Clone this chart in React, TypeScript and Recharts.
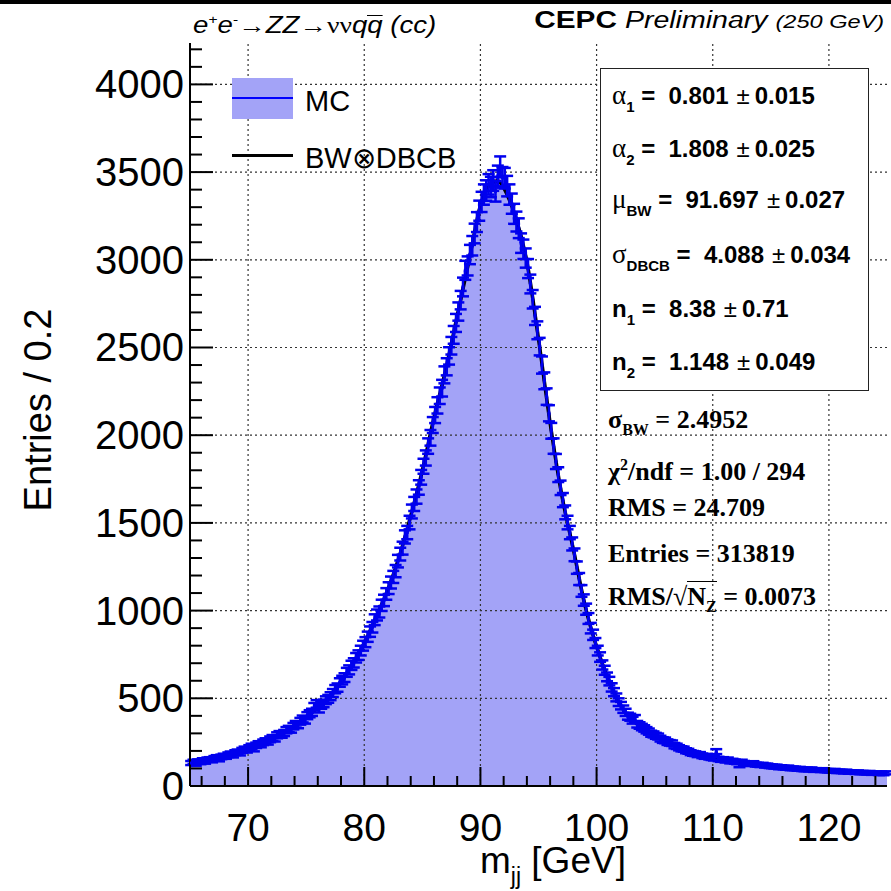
import React from 'react';
import { ComposedChart, Area, Line, Scatter, ErrorBar, XAxis, YAxis, ReferenceLine } from 'recharts';

const X_MIN = 65;
const X_MAX = 125;
const BIN_WIDTH = 0.2;
const Y_MAX = 4236;

// MC entries per 0.2 GeV bin, five bins per GeV, first bin starts at 65 GeV
const counts = [
  131, 138, 127, 140, 136, // 65
  146, 139, 150, 152, 147, // 66
  158, 163, 153, 166, 171, // 67
  168, 178, 183, 176, 190, // 68
  194, 188, 203, 210, 205, // 69
  218, 226, 212, 232, 240, // 70
  236, 249, 256, 252, 266, // 71
  274, 270, 289, 296, 292, // 72
  302, 318, 325, 322, 341, // 73
  352, 348, 369, 382, 375, // 74
  401, 412, 420, 452, 468, // 75
  440, 462, 471, 489, 497, // 76
  512, 530, 552, 561, 590, // 77
  604, 618, 648, 662, 688, // 78
  702, 731, 746, 772, 800, // 79
  820, 851, 880, 905, 948, // 80
  975, 992, 1030, 1058, 1095, // 81
  1128, 1160, 1192, 1225, 1282, // 82
  1322, 1356, 1420, 1445, 1502, // 83
  1565, 1608, 1650, 1702, 1760, // 84
  1823, 1870, 1938, 1985, 2058, // 85
  2115, 2170, 2225, 2268, 2344, // 86
  2390, 2452, 2510, 2572, 2640, // 87
  2705, 2770, 2845, 2940, 2965, // 88
  3030, 3080, 3150, 3215, 3280, // 89
  3330, 3372, 3395, 3430, 3415, // 90
  3452, 3390, 3478, 3530, 3470, // 91
  3465, 3420, 3372, 3320, 3262, // 92
  3218, 3180, 3095, 3060, 3010, // 93
  2950, 2862, 2775, 2680, 2598, // 94
  2505, 2400, 2310, 2220, 2125, // 95
  2025, 1938, 1850, 1775, 1700, // 96
  1630, 1560, 1502, 1445, 1380, // 97
  1318, 1245, 1180, 1112, 1060, // 98
  1008, 955, 900, 862, 815, // 99
  772, 735, 690, 660, 622, // 100
  598, 562, 535, 505, 478, // 101
  458, 438, 420, 398, 392, // 102
  375, 385, 352, 345, 336, // 103
  328, 318, 310, 298, 294, // 104
  286, 282, 270, 262, 260, // 105
  250, 246, 244, 230, 226, // 106
  218, 212, 210, 201, 198, // 107
  190, 186, 184, 178, 180, // 108
  172, 168, 170, 164, 161, // 109
  158, 196, 154, 150, 152, // 110
  146, 150, 141, 143, 139, // 111
  136, 118, 138, 131, 127, // 112
  128, 125, 130, 122, 121, // 113
  119, 121, 116, 117, 113, // 114
  112, 110, 111, 106, 108, // 115
  105, 103, 106, 100, 101, // 116
  100, 97, 99, 95, 94, // 117
  95, 93, 96, 90, 92, // 118
  91, 89, 92, 88, 87, // 119
  87, 85, 88, 83, 84, // 120
  83, 81, 84, 79, 80, // 121
  79, 77, 80, 76, 77, // 122
  76, 74, 77, 72, 74, // 123
  73, 71, 74, 70, 75, // 124
];

// BW (x) DBCB fit curve
const fitMass = [
  65, 66, 67, 68, 69, 70, 71, 72, 73, 74, 75, 76, 77, 78, 79, 80, 81, 82, 83, 84, 85, 86, 87, 88, 89, 90,
  90.5, 91, 91.5, 92, 92.5,
  93, 94, 95, 96, 97, 98, 99, 100, 101, 102, 103, 104, 105, 106, 107, 108, 109, 110,
  111, 112, 113, 114, 115, 116, 117, 118, 119, 120, 121, 122, 123, 124, 125,
];
const fitValue = [
  133, 143, 155, 170, 190, 213, 238, 268, 303, 345, 395, 445, 505, 595, 695, 815, 960, 1115, 1305, 1540, 1800, 2100, 2370, 2680, 2990, 3310,
  3400, 3440, 3450, 3410, 3340,
  3250, 2990, 2550, 2070, 1660, 1350, 1030, 795, 610, 465, 380, 330, 290, 255, 222, 195, 175, 160,
  148, 138, 129, 121, 114, 107, 101, 96, 92, 88, 84, 80, 77, 74, 72,
];

const xMajor = [70, 80, 90, 100, 110, 120];
const xTicks = [66, 68, 70, 72, 74, 76, 78, 80, 82, 84, 86, 88, 90, 92, 94, 96, 98, 100, 102, 104, 106, 108, 110, 112, 114, 116, 118, 120, 122, 124];
const yMajor = [0, 500, 1000, 1500, 2000, 2500, 3000, 3500, 4000];
const yTicks = Array.from({ length: 43 }, (_, i) => i * 100);

const histData = counts.map((c, i) => ({ m: X_MIN + i * BIN_WIDTH, c }));
histData.push({ m: X_MAX, c: counts[counts.length - 1] });
const pointData = counts.map((c, i) => ({ m: X_MIN + (i + 0.5) * BIN_WIDTH, c, e: Math.sqrt(c) }));
const fitData = fitMass.map((m, i) => ({ m, f: fitValue[i] }));

const SANS = '"Liberation Sans", Arial, Helvetica, sans-serif';
const SERIF = '"Liberation Serif", "Times New Roman", serif';

const BottomTick = (props: any) => {
  const { x, y, payload } = props;
  const major = xMajor.includes(payload.value);
  return (
    <g>
      <line x1={x} y1={y} x2={x} y2={y - (major ? 19 : 10)} stroke="#000" strokeWidth={2} />
      {major && (
        <text x={x} y={y + 55} textAnchor="middle" fontSize={39} fontFamily={SANS} fill="#000">
          {payload.value}
        </text>
      )}
    </g>
  );
};

const TopTick = (props: any) => {
  const { x, y, payload } = props;
  const major = xMajor.includes(payload.value);
  return <line x1={x} y1={y} x2={x} y2={y + (major ? 19 : 10)} stroke="#000" strokeWidth={2} />;
};

const LeftTick = (props: any) => {
  const { x, y, payload } = props;
  const major = yMajor.includes(payload.value);
  return (
    <g>
      <line x1={x} y1={y} x2={x + (major ? 23 : 12)} y2={y} stroke="#000" strokeWidth={2} />
      {major && (
        <text x={x - 6} y={y + 14} textAnchor="end" fontSize={40} fontFamily={SANS} fill="#000">
          {payload.value}
        </text>
      )}
    </g>
  );
};

const RightTick = (props: any) => {
  const { x, y, payload } = props;
  const major = yMajor.includes(payload.value);
  return <line x1={x} y1={y} x2={x - (major ? 23 : 12)} y2={y} stroke="#000" strokeWidth={2} />;
};

const boxLine = (top: number): React.CSSProperties => ({
  position: 'absolute',
  left: 612,
  top: top - 15,
  height: 30,
  lineHeight: '30px',
  fontFamily: SANS,
  fontWeight: 'bold',
  fontSize: 24,
  whiteSpace: 'nowrap',
});

const serifLine = (top: number): React.CSSProperties => ({
  position: 'absolute',
  left: 608,
  top: top - 16,
  height: 32,
  lineHeight: '32px',
  fontFamily: SERIF,
  fontWeight: 'bold',
  fontSize: 26,
  whiteSpace: 'nowrap',
});

const greek: React.CSSProperties = { fontFamily: SERIF, fontWeight: 'normal', fontSize: 27 };
const sub: React.CSSProperties = { fontSize: 15, position: 'relative', top: 8 };
const pm: React.CSSProperties = { fontWeight: 'normal', margin: '0 5px 0 8px' };
const serifSub: React.CSSProperties = { fontSize: 16, position: 'relative', top: 7 };

export default function App() {
  return (
    <div style={{ position: 'absolute', left: 0, top: 0, width: 891, height: 891, background: '#fff', overflow: 'hidden' }}>
      <ComposedChart width={891} height={891} margin={{ top: 43, right: 4, bottom: 0, left: 0 }}>
        <XAxis
          xAxisId="b"
          dataKey="m"
          type="number"
          domain={[X_MIN, X_MAX]}
          ticks={xTicks}
          interval={0}
          allowDataOverflow
          height={105}
          tickSize={0}
          tickMargin={0}
          tickLine={false}
          tick={BottomTick}
          axisLine={{ stroke: '#000', strokeWidth: 2 }}
        />
        <XAxis
          xAxisId="t"
          orientation="top"
          dataKey="m"
          type="number"
          domain={[X_MIN, X_MAX]}
          ticks={xTicks}
          interval={0}
          allowDataOverflow
          height={0}
          tickSize={0}
          tickMargin={0}
          tickLine={false}
          tick={TopTick}
          axisLine={{ stroke: '#000', strokeWidth: 2 }}
        />
        <YAxis
          yAxisId="l"
          type="number"
          domain={[0, Y_MAX]}
          ticks={yTicks}
          interval={0}
          allowDataOverflow
          width={190}
          tickSize={0}
          tickMargin={0}
          tickLine={false}
          tick={LeftTick}
          axisLine={{ stroke: '#000', strokeWidth: 2 }}
        />
        <YAxis
          yAxisId="r"
          orientation="right"
          type="number"
          domain={[0, Y_MAX]}
          ticks={yTicks}
          interval={0}
          allowDataOverflow
          width={0}
          tickSize={0}
          tickMargin={0}
          tickLine={false}
          tick={RightTick}
          axisLine={{ stroke: '#000', strokeWidth: 2 }}
        />
        <Area
          xAxisId="b"
          yAxisId="l"
          data={histData}
          dataKey="c"
          type="stepAfter"
          fill="#a3a3f7"
          fillOpacity={1}
          stroke="#0000ff"
          strokeWidth={1}
          baseValue={0}
          isAnimationActive={false}
        />
        {xMajor.map((v) => (
          <ReferenceLine key={'gx' + v} xAxisId="b" yAxisId="l" x={v} stroke="#333" strokeDasharray="2 3" strokeWidth={1.2} />
        ))}
        {yMajor.filter((v) => v > 0).map((v) => (
          <ReferenceLine key={'gy' + v} xAxisId="b" yAxisId="l" y={v} stroke="#333" strokeDasharray="2 3" strokeWidth={1.2} />
        ))}
        <Line
          xAxisId="b"
          yAxisId="l"
          data={fitData}
          dataKey="f"
          type="monotone"
          stroke="#000"
          strokeWidth={3.5}
          dot={false}
          isAnimationActive={false}
        />
        <Scatter
          xAxisId="b"
          yAxisId="l"
          data={pointData}
          dataKey="c"
          fill="#0000ff"
          shape={(p: any) => <line x1={p.cx - 1.5} x2={p.cx + 1.5} y1={p.cy} y2={p.cy} stroke="#0000ee" strokeWidth={3} />}
          isAnimationActive={false}
        >
          <ErrorBar dataKey="e" direction="y" width={6} stroke="#0000ee" strokeWidth={2.5} isAnimationActive={false} />
        </Scatter>
      </ComposedChart>

      {/* frame band at the very top */}
      <div style={{ position: 'absolute', left: 0, top: 0, width: 891, height: 4, background: '#000' }} />

      {/* header */}
      <div style={{ position: 'absolute', left: 193, top: 5, fontFamily: SANS, fontStyle: 'italic', fontSize: 23, lineHeight: '30px', whiteSpace: 'nowrap', transform: 'scaleX(1.2)', transformOrigin: 'left' }}>
        e<sup style={{ fontSize: 13 }}>+</sup>e<sup style={{ fontSize: 13 }}>-</sup>→ZZ→<span style={{ fontFamily: SERIF, fontStyle: 'normal' }}>νν</span>q<span style={{ display: 'inline-block', borderTop: '1.5px solid #000', lineHeight: '18px' }}>q</span> (cc)
      </div>
      <div style={{ position: 'absolute', right: 7, top: 5, fontFamily: SANS, fontSize: 23, lineHeight: '30px', whiteSpace: 'nowrap', transform: 'scaleX(1.24)', transformOrigin: 'right' }}>
        <span style={{ fontWeight: 'bold', fontSize: 24 }}>CEPC</span>
        <span style={{ fontStyle: 'italic' }}> Preliminary </span>
        <span style={{ fontStyle: 'italic', fontSize: 19 }}>(250 GeV)</span>
      </div>

      {/* legend */}
      <div style={{ position: 'absolute', left: 232, top: 78, width: 61, height: 41, background: '#a3a3f7' }}>
        <div style={{ position: 'absolute', left: 0, top: 19, width: 61, height: 2, background: '#0000ff' }} />
      </div>
      <div style={{ position: 'absolute', left: 305, top: 84, fontFamily: SANS, fontSize: 29, lineHeight: '34px' }}>MC</div>
      <div style={{ position: 'absolute', left: 232, top: 154, width: 61, height: 3, background: '#000' }} />
      <div style={{ position: 'absolute', left: 305, top: 141, fontFamily: SANS, fontSize: 29, lineHeight: '34px' }}>BW⊗DBCB</div>

      {/* fit parameter box */}
      <div style={{ position: 'absolute', left: 600, top: 68, width: 267, height: 321, background: '#fff', border: '1.5px solid #222' }} />
      <div style={boxLine(95)}><span style={greek}>α</span><span style={sub}>1</span> = &nbsp;0.801<span style={pm}>±</span>0.015</div>
      <div style={boxLine(148)}><span style={greek}>α</span><span style={sub}>2</span> = &nbsp;1.808<span style={pm}>±</span>0.025</div>
      <div style={boxLine(199)}><span style={greek}>μ</span><span style={sub}>BW</span> = &nbsp;91.697<span style={pm}>±</span>0.027</div>
      <div style={boxLine(254)}><span style={greek}>σ</span><span style={sub}>DBCB</span> = &nbsp;4.088<span style={pm}>±</span>0.034</div>
      <div style={boxLine(309)}>n<span style={sub}>1</span> = &nbsp;8.38<span style={pm}>±</span>0.71</div>
      <div style={boxLine(362)}>n<span style={sub}>2</span> = &nbsp;1.148<span style={pm}>±</span>0.049</div>

      {/* summary numbers */}
      <div style={serifLine(420)}>σ<span style={serifSub}>BW</span> = 2.4952</div>
      <div style={serifLine(465)}>χ<sup style={{ fontSize: 16 }}>2</sup>/ndf = 1.00 / 294</div>
      <div style={serifLine(508)}>RMS = 24.709</div>
      <div style={serifLine(554)}>Entries = 313819</div>
      <div style={serifLine(597)}>
        RMS/√<span style={{ borderTop: '1.5px solid #000' }}>N<span style={serifSub}>Z</span></span> = 0.0073
      </div>

      {/* axis titles */}
      <div style={{ position: 'absolute', left: 38, top: 410, transform: 'translate(-50%, -50%) rotate(-90deg)', fontFamily: SANS, fontSize: 38, whiteSpace: 'nowrap' }}>
        Entries / 0.2
      </div>
      <div style={{ position: 'absolute', left: 480, top: 846, fontFamily: SANS, fontSize: 37, whiteSpace: 'nowrap', lineHeight: '30px' }}>
        m<span style={{ fontSize: 23, position: 'relative', top: 11 }}>jj</span> [GeV]
      </div>
    </div>
  );
}
